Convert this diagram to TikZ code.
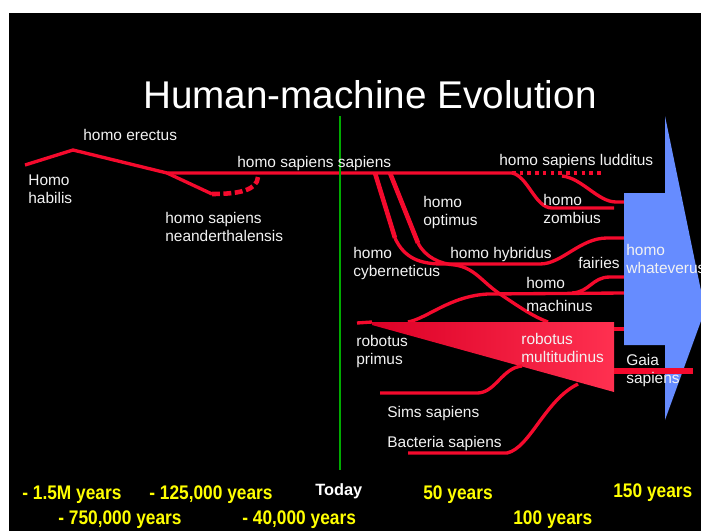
\documentclass[tikz,border=0pt]{standalone}
\usepackage{fontspec}
\setmainfont{Liberation Sans}
\newfontfamily\yearfont[FakeStretch=0.88]{Liberation Sans}
\usepackage{tikz}

\definecolor{linered}{RGB}{245,10,45}
\definecolor{trileft}{RGB}{220,0,38}
\definecolor{triright}{RGB}{255,48,80}
\definecolor{arrowblue}{RGB}{102,140,255}
\definecolor{todaygreen}{RGB}{0,170,0}
\definecolor{yearyellow}{RGB}{255,255,0}
\definecolor{labelwhite}{RGB}{242,242,242}

\newcommand{\lblsize}{\fontsize{8.8}{10}\selectfont}
\newcommand{\yrsize}{\fontsize{11.2}{13}\selectfont}

\begin{document}
\begin{tikzpicture}[x=0.02cm, y=-0.02cm]
        \tikzset{
          branch/.style={draw=linered, line width=1.9pt},
          trunk/.style={draw=linered, line width=2.6pt},
          lbl/.style={text=labelwhite, font=\lblsize, anchor=base west, inner sep=0pt, align=left},
          yearlbl/.style={text=yearyellow, font=\yearfont\bfseries\yrsize, anchor=base west, inner sep=0pt},
          todaylbl/.style={text=white, font=\bfseries\fontsize{9.3}{11}\selectfont, anchor=base west, inner sep=0pt}
        }
        \useasboundingbox (0,0) rectangle (701,531);
        \clip (0,0) rectangle (701,531);
        \fill[white] (0,0) rectangle (701,531);
        \fill[black] (9,13) rectangle (701,531);

        \node[text=white, font=\fontsize{22}{26}\selectfont, anchor=base, inner sep=0pt] (title) at (370,108) {Human-machine Evolution};

        % branch points
        \coordinate (habilis) at (25,165);
        \coordinate (erectus) at (73,150);
        \coordinate (split) at (167,173);
        \coordinate (neander) at (212,194);
        \coordinate (neanderend) at (258,177);
        \coordinate (cyberfork) at (375,173);
        \coordinate (optimusfork) at (390,173);
        \coordinate (luddfork) at (512,173);
        \coordinate (luddend) at (603,173);
        \coordinate (luddbranch) at (562,176);
        \coordinate (hybridstart) at (442,264);
        \coordinate (machinefork) at (455,265);
        \coordinate (machinestart) at (408,322);
        \coordinate (fairyfork) at (572,293);
        \coordinate (robotapex) at (372,322);
        \coordinate (primus) at (357,323);
        \coordinate (sims) at (380,393);
        \coordinate (bacteria) at (408,453);
        \coordinate (whatever1) at (624,202);
        \coordinate (whatever2) at (624,238);
        \coordinate (whatever3) at (624,277);
        \coordinate (whatever4) at (624,293);
        \coordinate (whatever5) at (624,329);
        \coordinate (zombiend) at (614,208);
        \coordinate (gaiastart) at (614,371);
        \coordinate (gaiaend) at (693,371);
        \coordinate (todaytop) at (340,116);
        \coordinate (todaybottom) at (340,470);

        % sapiens line and its early side branches
        \draw[branch] (habilis) -- (erectus) -- (split) -- (luddfork);
        \draw[branch, dash pattern=on 2pt off 2.4pt] (luddfork) -- (luddend);
        \draw[branch] (split) -- (neander);
        \draw[trunk, dash pattern=on 4.5pt off 2pt] (neander) .. controls (240,194) and (257,190) .. (neanderend);
        \draw[branch] (luddfork) .. controls (528,176) and (535,208) .. (552,208) -- (zombiend);
        \draw[branch] (luddbranch) .. controls (582,178) and (598,202) .. (616,202) -- (whatever1);

        % optimus / cyberneticus
        \draw[trunk] (cyberfork) -- (395,238);
        \draw[branch] (395,238) .. controls (404,258) and (420,264) .. (hybridstart);
        \draw[trunk] (optimusfork) -- (418,243);
        \draw[branch] (418,243) .. controls (425,257) and (440,264) .. (machinefork);
        \draw[branch] (hybridstart) -- (540,264) .. controls (562,264) and (580,238) .. (607,238) -- (whatever2);
        \draw[branch] (machinefork) .. controls (475,268) and (482,282) .. (500,294) .. controls (518,306) and (532,316) .. (548,322);
        \draw[branch] (machinestart) .. controls (428,318) and (450,296) .. (488,294) -- (whatever4);
        \draw[branch] (fairyfork) .. controls (590,292) and (592,277) .. (610,277) -- (whatever3);

        % robotus
        \shade[left color=trileft, right color=triright] (robotapex) -- (614,322) -- (614,392) -- (372,325) -- cycle;
        \draw[branch] (primus) -- (robotapex);
        \draw[branch] (614,329) -- (whatever5);
        \draw[branch] (sims) -- (478,393) .. controls (496,392) and (502,368) .. (522,366);
        \draw[branch] (bacteria) -- (507,453) .. controls (530,448) and (545,400) .. (578,384);

        % whateverus arrow
        \fill[arrowblue] (624,193) -- (665,193) -- (665,116) -- (705,310) -- (665,420) -- (665,345) -- (624,345) -- cycle;
        \draw[trunk, line width=3.2pt] (gaiastart) -- (gaiaend);
        \draw[todaygreen, line width=1.7pt] (todaytop) -- (todaybottom);

        % two-line labels sit on the baseline of their last line
        \node[lbl] (habilisl) at (28,203) {Homo\\habilis};
        \node[lbl] (erectusl) at (83,140) {homo erectus};
        \node[lbl] (sapiensl) at (237,167) {homo sapiens sapiens};
        \node[lbl] (neanderl) at (165,241) {homo sapiens\\neanderthalensis};
        \node[lbl] (ludditusl) at (499,165) {homo sapiens ludditus};
        \node[lbl] (optimusl) at (423,225) {homo\\optimus};
        \node[lbl] (zombiusl) at (543,223) {homo\\zombius};
        \node[lbl] (cyberl) at (353,276) {homo\\cyberneticus};
        \node[lbl] (hybridl) at (450,258) {homo hybridus};
        \node[lbl] (fairiesl) at (578,268) {fairies};
        \node[lbl] (machinusl) at (526,311) {homo\\[3pt]machinus};
        \node[lbl] (whateverl) at (626,273) {homo\\whateverus};
        \node[lbl] (primusl) at (356,364) {robotus\\primus};
        \node[lbl] (multil) at (521,362) {robotus\\multitudinus};
        \node[lbl] (gaial) at (626,383) {Gaia\\sapiens};
        \node[lbl] (simsl) at (387,417) {Sims sapiens};
        \node[lbl] (bacterial) at (387,447) {Bacteria sapiens};

        % time axis
        \node[yearlbl] (y1) at (22,499) {- 1.5M years};
        \node[yearlbl] (y2) at (149,499) {- 125,000 years};
        \node[todaylbl] (today) at (315,495) {Today};
        \node[yearlbl] (y3) at (423,499) {50 years};
        \node[yearlbl] (y4) at (613,497) {150 years};
        \node[yearlbl] (y5) at (58,524) {- 750,000 years};
        \node[yearlbl] (y6) at (242,524) {- 40,000 years};
        \node[yearlbl] (y7) at (513,524) {100 years};
\end{tikzpicture}
\end{document}
